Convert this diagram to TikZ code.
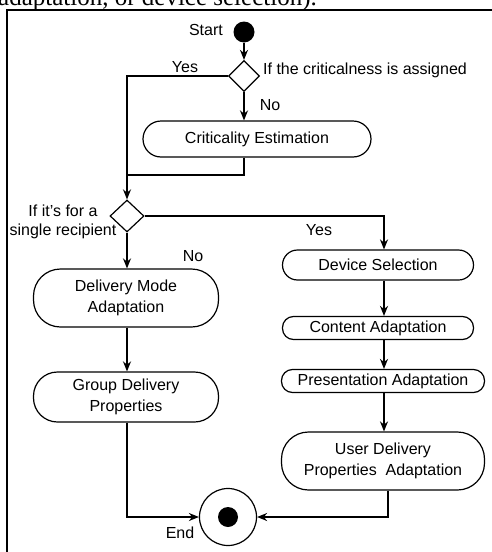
\documentclass[tikz,border=0pt]{standalone}
\usepackage{fontspec}
\setmainfont{Liberation Sans}
\newfontfamily\seriffont{Liberation Serif}
\usetikzlibrary{arrows.meta,shapes.geometric}
\begin{document}
\begin{tikzpicture}[x=1pt,y=-1pt,
  act/.style={draw, line width=1.2pt, align=center, inner sep=0pt, font=\fontsize{16}{21}\selectfont},
  lbl/.style={inner sep=0pt, font=\fontsize{16}{19.5}\selectfont},
  arr/.style={line width=1.6pt, -{Stealth[length=10pt,width=8pt]}},
  ln/.style={line width=1.6pt},
  dec/.style={draw, diamond, line width=1.2pt, inner sep=0pt, fill=white}]
\useasboundingbox (0,0) rectangle (492,552);
\begin{scope}
\clip (0,0) rectangle (492,552);
\node[anchor=base west, inner sep=0pt, font=\seriffont\fontsize{25}{30}\selectfont] (cap) at (-2,5) {adaptation, or device selection).};
\end{scope}
\draw[line width=1.5pt] (7,552) -- (7,10) -- (492,10);

\node[circle, fill=black, minimum size=21pt, inner sep=0pt] (start) at (244,32) {};
\node[lbl, anchor=east] (startl) at (223,30) {Start};
\node[dec, minimum width=31pt, minimum height=31pt] (d1) at (244,76) {};
\node[lbl, anchor=west] (q1) at (263,70) {If the criticalness is assigned};
\node[lbl] (yes1) at (185,67) {Yes};
\node[lbl] (no1) at (270,105) {No};
\node[act, minimum width=228pt, minimum height=36pt, rounded corners=18pt] (crit) at (257,139) {Criticality Estimation};
\coordinate (j1) at (127,175);
\node[dec, minimum width=34pt, minimum height=32pt] (d2) at (127,216) {};
\node[lbl, align=center] (q2) at (63,222) {If it’s for a\\single recipient};
\node[lbl] (yes2) at (319,230) {Yes};
\node[lbl] (no2) at (193,256) {No};
\node[act, minimum width=185pt, minimum height=58pt, rounded corners=27pt] (dma) at (126,298) {Delivery Mode\\Adaptation};
\node[act, minimum width=185pt, minimum height=50pt, rounded corners=24pt] (gdp) at (126,397) {Group Delivery\\Properties};
\node[act, minimum width=191pt, minimum height=30pt, rounded corners=15pt] (ds) at (378,265) {Device Selection};
\node[act, minimum width=191pt, minimum height=23pt, rounded corners=11pt] (ca) at (378,328) {Content Adaptation};
\node[act, minimum width=203pt, minimum height=23pt, rounded corners=11pt] (pa) at (383,381) {Presentation Adaptation};
\node[act, minimum width=203pt, minimum height=58pt, rounded corners=27pt] (ud) at (383,461) {User Delivery\\Properties\ \ Adaptation};
\node[circle, draw, line width=1.2pt, minimum size=57pt, inner sep=0pt] (end) at (228,517) {};
\node[circle, fill=black, minimum size=20pt, inner sep=0pt] (enddot) at (end.center) {};
\node[lbl] (endl) at (180,533) {End};

\coordinate (colR) at (384,216);
\coordinate (colU) at (388,516);
\draw[arr] (start.south) -- (d1.north);
\draw[arr] (d1.west) -| (d2.north);
\draw[arr] (d1.south) -- (d1.south |- crit.north);
\draw[ln] (crit.south -| d1.south) -- (j1 -| d1.south) -- (j1);
\draw[arr] (d2.east) -| (ds.north -| colR);
\draw[arr] (d2.south) -- (d2.south |- dma.north);
\draw[arr] (dma.south -| d2.south) -- (gdp.north -| d2.south);
\draw[arr] (ds.south -| colR) -- (ca.north -| colR);
\draw[arr] (ca.south -| colR) -- (pa.north -| colR);
\draw[arr] (pa.south -| colR) -- (ud.north -| colR);
\draw[arr] (gdp.south -| d2.south) |- (end.west);
\draw[arr] (ud.south -| colU) |- (end.east);
\end{tikzpicture}
\end{document}
